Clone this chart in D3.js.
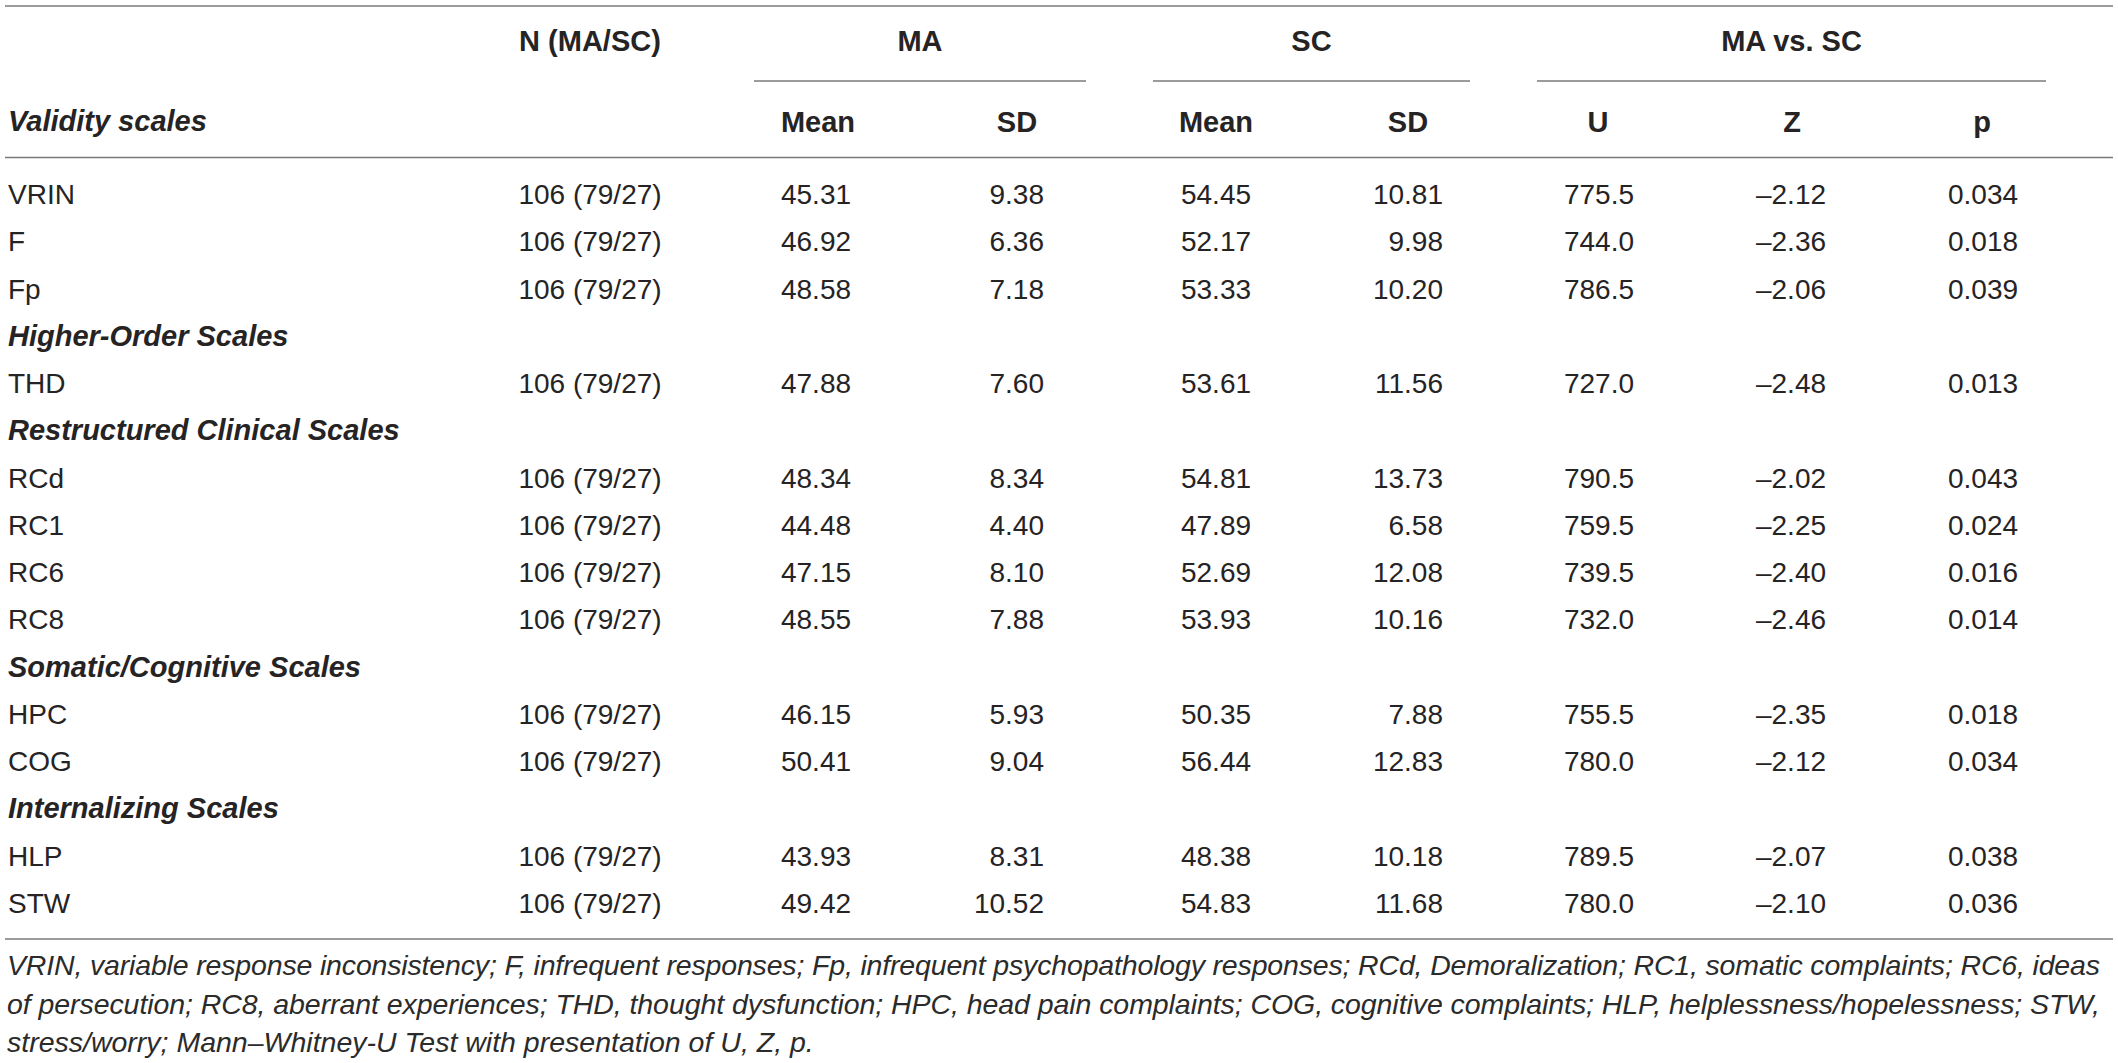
<!DOCTYPE html>
<html>
<head>
<meta charset="utf-8">
<script src="https://d3js.org/d3.v7.min.js"></script>
<style>
    body { margin: 0; background: #fff; }
    text { font-family: "Liberation Sans", Arial, sans-serif; fill: #262324; }
    .head { font-size: 29px; font-weight: bold; }
    .cell { font-size: 28px; }
    .section { font-size: 29px; font-weight: bold; font-style: italic; }
    .note { font-size: 28.5px; font-style: italic; fill: #2b2b2b; }
    .rule { stroke: #7a7a7a; stroke-width: 1.5; }
</style>
</head>
<body>
<script>
// rows of the table, in order (section titles mixed in)
var tableRows = ["VRIN", "F", "Fp", "Higher-Order Scales", "THD", "Restructured Clinical Scales",
    "RCd", "RC1", "RC6", "RC8", "Somatic/Cognitive Scales", "HPC", "COG", "Internalizing Scales", "HLP", "STW"];
var sectionLabels = ["Higher-Order Scales", "Restructured Clinical Scales", "Somatic/Cognitive Scales", "Internalizing Scales"];

// data rows only
var scaleNames = ["VRIN", "F", "Fp", "THD", "RCd", "RC1", "RC6", "RC8", "HPC", "COG", "HLP", "STW"];
var nTotal = [106, 106, 106, 106, 106, 106, 106, 106, 106, 106, 106, 106];
var nMA    = [79, 79, 79, 79, 79, 79, 79, 79, 79, 79, 79, 79];
var nSC    = [27, 27, 27, 27, 27, 27, 27, 27, 27, 27, 27, 27];
var maMean = [45.31, 46.92, 48.58, 47.88, 48.34, 44.48, 47.15, 48.55, 46.15, 50.41, 43.93, 49.42];
var maSD   = [9.38, 6.36, 7.18, 7.60, 8.34, 4.40, 8.10, 7.88, 5.93, 9.04, 8.31, 10.52];
var scMean = [54.45, 52.17, 53.33, 53.61, 54.81, 47.89, 52.69, 53.93, 50.35, 56.44, 48.38, 54.83];
var scSD   = [10.81, 9.98, 10.20, 11.56, 13.73, 6.58, 12.08, 10.16, 7.88, 12.83, 10.18, 11.68];
var uVals  = [775.5, 744.0, 786.5, 727.0, 790.5, 759.5, 739.5, 732.0, 755.5, 780.0, 789.5, 780.0];
var zVals  = [-2.12, -2.36, -2.06, -2.48, -2.02, -2.25, -2.40, -2.46, -2.35, -2.12, -2.07, -2.10];
var pVals  = [0.034, 0.018, 0.039, 0.013, 0.043, 0.024, 0.016, 0.014, 0.018, 0.034, 0.038, 0.036];

var groupHeads = ["N (MA/SC)", "MA", "SC", "MA vs. SC"];
var subHeads = ["Mean", "SD", "Mean", "SD", "U", "Z", "p"];

var noteLines = [
    "VRIN, variable response inconsistency; F, infrequent responses; Fp, infrequent psychopathology responses; RCd, Demoralization; RC1, somatic complaints; RC6, ideas",
    "of persecution; RC8, aberrant experiences; THD, thought dysfunction; HPC, head pain complaints; COG, cognitive complaints; HLP, helplessness/hopelessness; STW,",
    "stress/worry; Mann\u2013Whitney-U Test with presentation of U, Z, p."
];
</script>

<script>
var W = 2118, H = 1063;
var svg = d3.select("body").append("svg")
    .attr("width", W)
    .attr("height", H);

var f2 = d3.format(".2f"), f1 = d3.format(".1f"), f3 = d3.format(".3f");
var dash = function(v) { return v < 0 ? "\u2013" + f2(-v) : f2(v); };

// column layout
var cols = [
    {key: "n",      x: 590,  anchor: "middle", fmt: function(i) { return nTotal[i] + " (" + nMA[i] + "/" + nSC[i] + ")"; }},
    {key: "maMean", x: 816,  anchor: "middle", hx: 818,  fmt: function(i) { return f2(maMean[i]); }},
    {key: "maSD",   x: 1044, anchor: "end",    hx: 1017, fmt: function(i) { return f2(maSD[i]); }},
    {key: "scMean", x: 1216, anchor: "middle", hx: 1216, fmt: function(i) { return f2(scMean[i]); }},
    {key: "scSD",   x: 1443, anchor: "end",    hx: 1408, fmt: function(i) { return f2(scSD[i]); }},
    {key: "u",      x: 1599, anchor: "middle", hx: 1598, fmt: function(i) { return f1(uVals[i]); }},
    {key: "z",      x: 1791, anchor: "middle", hx: 1792, fmt: function(i) { return dash(zVals[i]); }},
    {key: "p",      x: 1983, anchor: "middle", hx: 1982, fmt: function(i) { return f3(pVals[i]); }}
];

var groups = [
    {label: groupHeads[0], x0: 518, x1: 662, line: false},
    {label: groupHeads[1], x0: 754, x1: 1086, line: true},
    {label: groupHeads[2], x0: 1153, x1: 1470, line: true},
    {label: groupHeads[3], x0: 1537, x1: 2046, line: true}
];

var y = d3.scalePoint().domain(tableRows).range([204, 913]);

// horizontal rules
var rules = [6, 157.5, 939];
svg.selectAll("line.full").data(rules).enter().append("line")
    .attr("class", "rule full")
    .attr("x1", 5).attr("x2", 2113)
    .attr("y1", function(d) { return d; })
    .attr("y2", function(d) { return d; });

svg.selectAll("line.group").data(groups.filter(function(g) { return g.line; })).enter().append("line")
    .attr("class", "rule group")
    .attr("x1", function(d) { return d.x0; })
    .attr("x2", function(d) { return d.x1; })
    .attr("y1", 81).attr("y2", 81);

// header row 1
svg.selectAll("text.ghead").data(groups).enter().append("text")
    .attr("class", "head ghead")
    .attr("x", function(d) { return (d.x0 + d.x1) / 2; })
    .attr("y", 51)
    .attr("text-anchor", "middle")
    .text(function(d) { return d.label; });

// header row 2
svg.append("text")
    .attr("class", "section")
    .attr("x", 8).attr("y", 131)
    .text("Validity scales");

svg.selectAll("text.shead").data(subHeads).enter().append("text")
    .attr("class", "head shead")
    .attr("x", function(d, i) { return cols[i + 1].hx; })
    .attr("y", 131.5)
    .attr("text-anchor", "middle")
    .text(function(d) { return d; });

// row labels
svg.selectAll("text.rowlab").data(tableRows).enter().append("text")
    .attr("class", function(d) { return sectionLabels.indexOf(d) >= 0 ? "section rowlab" : "cell rowlab"; })
    .attr("x", 8)
    .attr("y", function(d) { return y(d); })
    .text(function(d) { return d; });

// body cells
var rowsG = svg.selectAll("g.row").data(scaleNames).enter().append("g")
    .attr("class", "row")
    .attr("transform", function(d) { return "translate(0," + y(d) + ")"; });

rowsG.selectAll("text").data(function(d, i) {
        return cols.map(function(c) { return {c: c, t: c.fmt(i)}; });
    }).enter().append("text")
    .attr("class", "cell")
    .attr("x", function(d) { return d.c.x; })
    .attr("text-anchor", function(d) { return d.c.anchor; })
    .text(function(d) { return d.t; });

// footnote, first two lines justified to the table width
var noteY = d3.scaleLinear().domain([0, 2]).range([975, 1052]);
svg.selectAll("text.note").data(noteLines).enter().append("text")
    .attr("class", "note")
    .attr("x", 7)
    .attr("y", function(d, i) { return noteY(i); })
    .each(function(d, i) {
        if (i < 2) d3.select(this).attr("textLength", 2093).attr("lengthAdjust", "spacing");
    })
    .text(function(d) { return d; });
</script>
</body>
</html>
